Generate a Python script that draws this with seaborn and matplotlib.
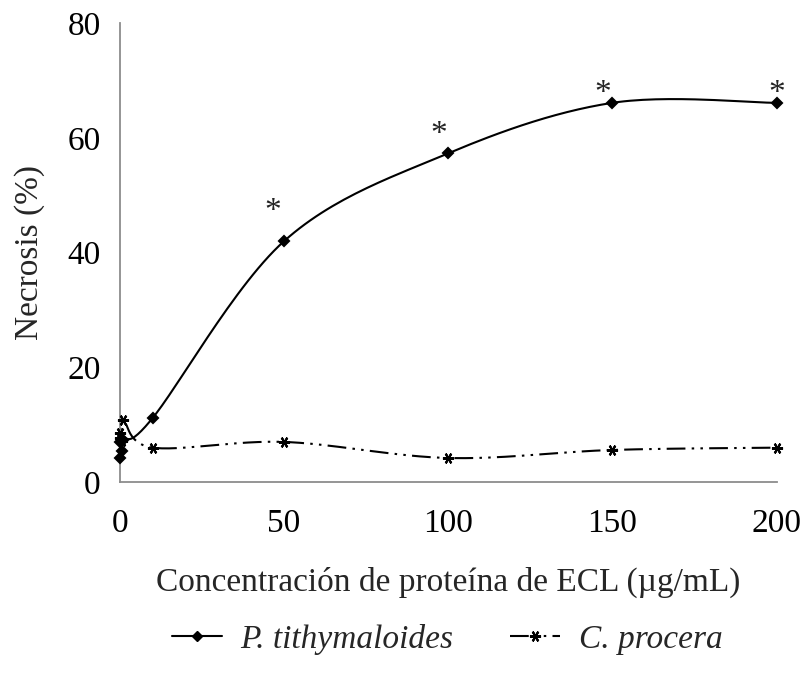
import numpy as np
import pandas as pd
import matplotlib
matplotlib.use("Agg")
import matplotlib.pyplot as plt
from matplotlib.lines import Line2D
import seaborn as sns

# Protein concentration (µg/mL) and necrosis (%) for each latex extract
conc = [0, 0.1, 0.5, 1, 10, 50, 100, 150, 200]
necrosis_pt = [7.0, 4.2, 5.4, 7.4, 11.2, 42.0, 57.3, 66.1, 66.1]
necrosis_cp = [7.6, 8.6, 7.2, 10.8, 6.0, 7.0, 4.2, 5.6, 6.0]
# Significant differences (*) and the height at which each mark is written
signif_conc = [50, 100, 150, 200]
signif_y = [47.1, 60.5, 67.7, 67.7]
x_ticks = [0, 50, 100, 150, 200]
y_ticks = [0, 20, 40, 60, 80]

df = pd.concat([
    pd.DataFrame({"conc": conc, "necrosis": necrosis_pt, "latex": "P. tithymaloides"}),
    pd.DataFrame({"conc": conc, "necrosis": necrosis_cp, "latex": "C. procera"}),
])

sns.set_theme(style="white")
plt.rcParams["font.family"] = ["Liberation Serif", "DejaVu Serif"]

FS = 24

fig = plt.figure(figsize=(8.03, 6.79), dpi=100)
ax = fig.add_axes([0.1494, 0.290, 0.8176, 0.676])
ax.set_xlim(0, 200)
ax.set_ylim(0, 80)

W, H = 656.0, 459.0  # axes size in pixels, used for screen-space smoothing


def smooth(xs, ys, n=30):
    """Catmull-Rom smoothing computed in screen space, like a smoothed chart line."""
    px = np.asarray(xs, float) / 200 * W
    py = np.asarray(ys, float) / 80 * H
    P = np.column_stack([px, py])
    P = np.vstack([P[0], P, P[-1]])
    out = []
    for i in range(1, len(P) - 2):
        p0, p1, p2, p3 = P[i - 1], P[i], P[i + 1], P[i + 2]
        c1 = p1 + (p2 - p0) / 6
        c2 = p2 - (p3 - p1) / 6
        t = np.linspace(0, 1, n)[:, None]
        seg = (1 - t) ** 3 * p1 + 3 * (1 - t) ** 2 * t * c1 + 3 * (1 - t) * t ** 2 * c2 + t ** 3 * p2
        out.append(seg)
    out = np.vstack(out)
    return out[:, 0] / W * 200, out[:, 1] / H * 80


DASH = (0, (9, 3, 1.2, 3, 1.2, 3))
styles = {
    "P. tithymaloides": dict(ls="-", marker="D", ms=5.5),
    "C. procera": dict(ls=DASH, marker=(6, 2, 90), ms=8),
}

for name, sub in df.groupby("latex", sort=False):
    sx, sy = smooth(sub["conc"], sub["necrosis"])
    curve = pd.DataFrame({"x": sx, "y": sy})
    sns.lineplot(data=curve, x="x", y="y", sort=False, color="black",
                 linestyle=styles[name]["ls"], linewidth=1.5, ax=ax)
    ax.plot(sub["conc"], sub["necrosis"], linestyle="none", color="black",
            marker=styles[name]["marker"], markersize=styles[name]["ms"],
            markeredgewidth=1.5, clip_on=False, zorder=4)

# Significance marks above P. tithymaloides
x_shift = [-3.5, -3.0, -3.0, 0.0]
for c, y, dx in zip(signif_conc, signif_y, x_shift):
    ax.text(c + dx, y, "*", ha="center", va="center", fontsize=FS, color="#222222")

# Axes styling
for side in ["top", "right"]:
    ax.spines[side].set_visible(False)
for side in ["left", "bottom"]:
    ax.spines[side].set_color("#8c8c8c")
    ax.spines[side].set_linewidth(1.3)

ax.set_xticks(x_ticks)
ax.set_yticks(y_ticks)
ax.set_yticks(np.arange(0, 81, 10), minor=True)
ax.tick_params(axis="both", which="both", direction="out", color="#8c8c8c",
               width=1.3, labelsize=FS, labelcolor="black")
ax.tick_params(axis="y", which="both", length=7, pad=7)
ax.tick_params(axis="x", which="major", length=7, pad=12)
ax.grid(False)

ax.set_xlabel("Concentración de proteína de ECL (µg/mL)", fontsize=FS, labelpad=20)
ax.set_ylabel("Necrosis (%)", fontsize=FS, labelpad=16)

handles = [
    Line2D([], [], color="black", linestyle="-", linewidth=1.5,
           marker="D", markersize=5.5),
    Line2D([], [], color="black", linestyle=DASH,
           linewidth=1.5, marker=(6, 2, 90), markersize=8, markeredgewidth=1.5),
]
leg = fig.legend(handles, ["P. tithymaloides", "C. procera"], loc="center",
                 bbox_to_anchor=(0.557, 0.058), ncol=2, frameon=False,
                 fontsize=FS, handlelength=1.5, columnspacing=1.7, handletextpad=0.55)
for t in leg.get_texts():
    t.set_fontstyle("italic")

fig.savefig("out.png", dpi=100, facecolor="white")
